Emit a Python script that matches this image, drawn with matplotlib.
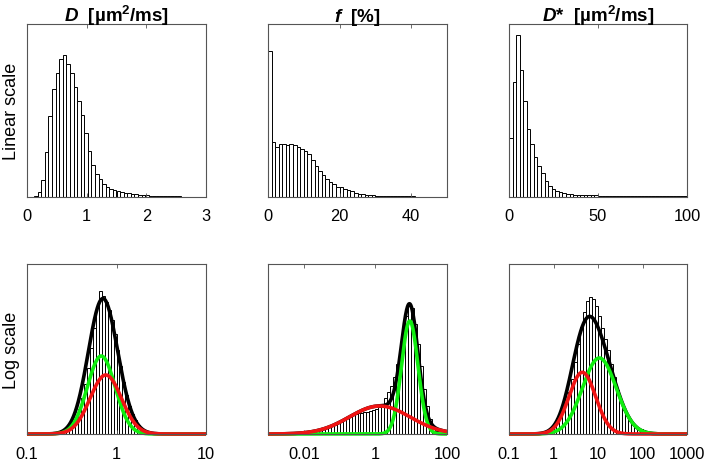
import numpy as np
import matplotlib
matplotlib.use('Agg')
import matplotlib.pyplot as plt
from matplotlib.ticker import FixedLocator, NullLocator, FixedFormatter

plt.rcParams['font.family'] = ['Liberation Sans', 'DejaVu Sans']
plt.rcParams['mathtext.fontset'] = 'custom'
plt.rcParams['mathtext.rm'] = 'Liberation Sans'
plt.rcParams['mathtext.it'] = 'Liberation Sans:italic'
plt.rcParams['mathtext.bf'] = 'Liberation Sans:bold'
try:
    plt.rcParams['mathtext.bfit'] = 'Liberation Sans:italic:bold'
except KeyError:
    pass

# ---------------- data ----------------
titles = [r'$\mathbfit{D}$  [µm$^{\mathbf{2}}$/ms]', r'$\mathbfit{f}$  [%]',
          r'$\mathbfit{D}$*  [µm$^{\mathbf{2}}$/ms]']
row_labels = ['Linear scale', 'Log scale']

# linear-scale histograms (50 bins each)
lin_ranges = [(0, 3), (0, 50), (0, 100)]
lin_ticks = [[0, 1, 2, 3], [0, 20, 40], [0, 50, 100]]

D_lin = [0, 0.3, 1, 5, 17, 45, 81, 108, 124, 138,
         142, 133, 124, 110, 96, 82, 64, 46, 32, 23,
         18, 13, 10, 8, 7, 6, 5, 4.5, 4, 3.5,
         3, 2.5, 2, 2, 1.5, 1.5, 1.2, 1, 1, 0.8,
         0.8, 0.7, 0.6, 0.5, 0.5, 0.4, 0.4, 0.3, 0.3, 0.3]
f_lin = [146, 55, 50, 53, 53, 52, 53, 52, 50, 48,
         46, 43, 37, 31, 26, 22, 18, 15, 13, 10,
         10, 8, 7, 6, 4.5, 3.5, 3, 2.5, 2, 1.7,
         1.5, 1.3, 1.2, 1.1, 1, 0.9, 0.8, 0.8, 0.7, 0.6,
         0.6, 0.5, 0.5, 0.4, 0.4, 0.4, 0.3, 0.3, 0.3, 0.3]
Dstar_lin = [59, 115, 162, 127, 96, 68, 53, 40, 31, 24,
             16, 11, 8.5, 6, 5, 4, 3.2, 2.8, 2.5, 2.2,
             2, 1.9, 1.8, 1.7, 1.6, 1.5, 1.5, 1.4, 1.4, 1.3,
             1.3, 1.3, 1.2, 1.2, 1.2, 1.1, 1.1, 1.0, 1.0, 1.0,
             1.0, 0.9, 0.9, 0.9, 0.9, 0.9, 0.8, 0.8, 0.8, 0.8]

# log-scale histograms (60 log-spaced bins each), ranges in decades
log_ranges = [(-1, 1), (-3, 2), (-1, 3)]
log_tick_vals = [[0.1, 1, 10], [0.01, 1, 100], [0.1, 1, 10, 100, 1000]]
log_tick_labels = [['0.1', '1', '10'], ['0.01', '1', '100'], ['0.1', '1', '10', '100', '1000']]

D_log = [0, 0, 0, 0, 0, 0, 0, 0.5, 1, 1.5,
         1.5, 2, 3, 5, 7, 10, 15, 25, 36, 50,
         66, 86, 106, 126, 143, 138, 132, 124, 114, 100,
         84, 68, 52, 39, 28, 20, 14, 9, 6, 4,
         3, 2, 1.5, 1, 0.7, 0.5, 0.4, 0.3, 0, 0,
         0, 0, 0, 0, 0, 0, 0, 0, 0, 0]
f_log = [0, 0, 0, 0, 0, 0, 0, 0, 0, 0,
         0.5, 1, 1.5, 2, 3, 3.5, 4, 4.5, 5, 6,
         7, 8, 10, 12, 14, 16, 17, 18, 19, 20,
         21, 21, 22, 22, 23, 24, 25, 27, 29, 36,
         42, 48, 57, 70, 85, 100, 118, 128, 126, 110,
         90, 68, 45, 28, 15, 7, 3, 1, 0, 0]
Dstar_log = [0, 0, 0, 0, 0, 0, 0, 0, 0, 0,
             0, 1, 2, 4, 7, 11, 16, 20, 25, 32,
             42, 55, 72, 90, 107, 122, 133, 137, 135, 128,
             118, 106, 95, 84, 70, 57, 44, 33, 24, 18,
             13, 10, 8, 6, 5, 4, 3, 2, 1.5, 1,
             0.5, 0, 0, 0, 0, 0, 0, 0, 0, 0]

# two-component Gaussian fits in log10 space: (amplitude, centre, sigma)
D_green = (78, -0.17, 0.155)
D_red = (59, -0.12, 0.175)
f_green = (113, 0.96, 0.23)
f_red = (28, 0.12, 0.85)
Dstar_green = (76, 1.03, 0.38)
Dstar_red = (61.7, 0.648, 0.30)

lin_data = [D_lin, f_lin, Dstar_lin]
log_data = [D_log, f_log, Dstar_log]
fits = [(D_green, D_red), (f_green, f_red), (Dstar_green, Dstar_red)]

# ---------------- figure ----------------
W, H = 709, 464
fig = plt.figure(figsize=(W / 100, H / 100), dpi=100)

col_x = [(27, 206), (268, 447), (509, 687)]
top_row = (25, 198)
bot_row = (265, 435)

SPINE = '#555555'
GREEN = '#10ee10'
RED = '#f01414'


def make_ax(xr, yr):
    x0, x1 = xr
    y0, y1 = yr
    ax = fig.add_axes([x0 / W, 1 - y1 / H, (x1 - x0) / W, (y1 - y0) / H])
    for s in ax.spines.values():
        s.set_color(SPINE)
        s.set_linewidth(0.8)
    ax.set_yticks([])
    ax.tick_params(axis='x', direction='in', length=3, width=0.6, color=SPINE,
                   top=True, labelsize=11.8, pad=8)
    return ax


def gauss(p, x):
    a, m, s = p
    return a * np.exp(-(x - m) ** 2 / (2 * s ** 2))


for i in range(3):
    # linear row
    ax = make_ax(col_x[i], top_row)
    lo, hi = lin_ranges[i]
    counts = lin_data[i]
    edges = np.linspace(lo, hi, len(counts) + 1)
    ax.bar(edges[:-1], counts, width=np.diff(edges), align='edge',
           color='white', edgecolor='black', linewidth=0.7)
    ax.set_xlim(lo, hi)
    ax.set_ylim(0, 173)
    ax.set_xticks(lin_ticks[i])
    ax.set_xticklabels([str(t) for t in lin_ticks[i]])
    ax.set_title(titles[i], fontsize=13.5, fontweight='bold', pad=2)

    # log row
    ax = make_ax(col_x[i], bot_row)
    lo, hi = log_ranges[i]
    counts = log_data[i]
    ledges = np.linspace(lo, hi, len(counts) + 1)
    edges = 10 ** ledges
    ax.set_xscale('log')
    ax.bar(edges[:-1], counts, width=np.diff(edges), align='edge',
           color='white', edgecolor='black', linewidth=0.7)
    grid = np.linspace(lo, hi, 800)
    g = gauss(fits[i][0], grid)
    r = gauss(fits[i][1], grid)
    xs = 10 ** grid
    ax.plot(xs, g + r, color='black', lw=2.6, clip_on=False, solid_capstyle='butt')
    ax.plot(xs, g, color=GREEN, lw=2.6, clip_on=False, solid_capstyle='butt')
    ax.plot(xs, r, color=RED, lw=2.6, clip_on=False, solid_capstyle='butt')
    ax.set_xlim(10 ** lo, 10 ** hi)
    ax.set_ylim(0, 170)
    ax.xaxis.set_major_locator(FixedLocator(log_tick_vals[i]))
    ax.xaxis.set_major_formatter(FixedFormatter(log_tick_labels[i]))
    ax.xaxis.set_minor_locator(NullLocator())
    ax.tick_params(axis='x', pad=9)

fig.text(11.5 / W, 1 - 111.5 / H, row_labels[0], rotation=90, ha='center', va='center', fontsize=13)
fig.text(11.5 / W, 1 - 350 / H, row_labels[1], rotation=90, ha='center', va='center', fontsize=13)

fig.savefig('out.png', dpi=100)
